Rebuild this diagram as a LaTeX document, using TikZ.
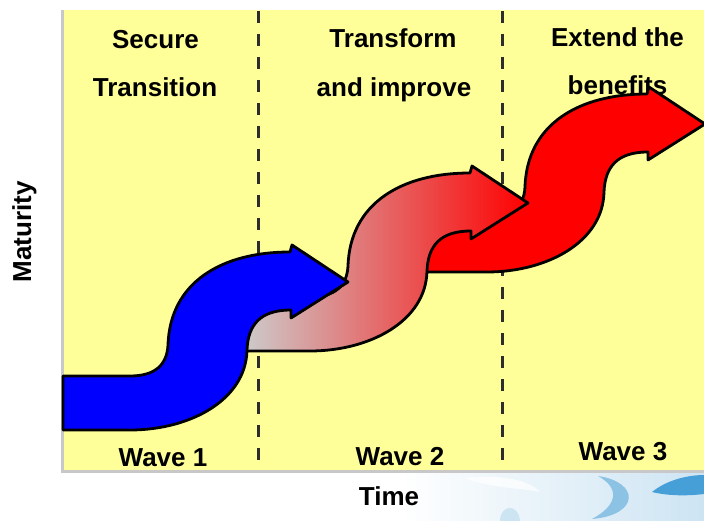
\documentclass[tikz,border=0pt]{standalone}
\usepackage{fontspec}
\setmainfont{Liberation Sans}
\definecolor{bgyellow}{RGB}{255,255,153}
\definecolor{dashgray}{RGB}{45,45,45}
\definecolor{bordergray}{RGB}{200,200,200}
\definecolor{startgray}{RGB}{204,204,204}
\definecolor{wmpale}{RGB}{205,228,243}
\definecolor{wmmid}{RGB}{140,195,228}
\definecolor{wmdark}{RGB}{70,160,215}
\newcommand{\wavepath}{(63,376) -- (130,376) .. controls (155,376) and (167,365) .. (168,345) .. controls (170,282) and (222,252) .. (290,252) -- (292,245) -- (348,282) -- (291,318) -- (291,310) .. controls (260,310) and (248,325) .. (247,350) .. controls (246,400) and (190,430) .. (130,430) -- (63,430) -- cycle}
\begin{document}
\begin{tikzpicture}[x=1pt,y=-1pt,
  lbl/.style={font=\bfseries\fontsize{26}{30}\selectfont, inner sep=0pt, anchor=base},
  divider/.style={draw=dashgray, line width=3pt, dash pattern=on 12pt off 11pt},
  wavearrow/.style={draw=black, line width=2.8pt, line join=round}]
\useasboundingbox (0,0) rectangle (704,521);
\clip (0,0) rectangle (704,521);
% watermark below the chart
\shade[left color=white, right color=wmpale] (400,473) rectangle (704,521);
\fill[white, opacity=0.7] (465,478) .. controls (500,474) and (530,480) .. (540,492) .. controls (520,488) and (490,488) .. (465,478) -- cycle;
\fill[wmpale] (500,521) .. controls (500,505) and (518,502) .. (520,521) -- cycle;
\fill[wmmid] (598,476) .. controls (640,482) and (640,515) .. (592,519) .. controls (618,505) and (620,488) .. (598,476) -- cycle;
\fill[wmdark] (652,492) .. controls (668,479) and (690,475) .. (704,475) -- (704,494) .. controls (688,496) and (668,496) .. (652,492) -- cycle;
% chart area
\fill[bgyellow] (62,10) rectangle (704,471);
\draw[bordergray, line width=3pt] (62,10) -- (62,471) -- (704,471);
\coordinate (d1t) at (258,11);
\coordinate (d1b) at (258,470);
\coordinate (d2t) at (502,11);
\coordinate (d2b) at (502,470);
\draw[divider] (d1t) -- (d1b);
\draw[divider] (d2t) -- (d2b);
% phase titles
\node[lbl] (p1a) at (155.5,49) {Secure};
\node[lbl] (p1b) at (155,97) {Transition};
\node[lbl] (p2a) at (393,48) {Transform};
\node[lbl] (p2b) at (394,97) {and improve};
\node[lbl] (p3a) at (617.5,46.5) {Extend the};
\node[lbl] (p3b) at (617.5,94.5) {benefits};
% wave labels
\node[lbl] (w1) at (163,466) {Wave 1};
\node[lbl] (w2) at (400,465) {Wave 2};
\node[lbl] (w3) at (623,460) {Wave 3};
% axis labels
\node[lbl] (tx) at (389,505) {Time};
\node[lbl, rotate=90] (ty) at (31,232) {Maturity};
% arrows
\begin{scope}[shift={(357,-158)}]
  \filldraw[wavearrow, fill=red] \wavepath;
\end{scope}
\begin{scope}[shift={(180,-79)}]
  \shadedraw[wavearrow, left color=startgray, right color=red] \wavepath;
\end{scope}
\filldraw[wavearrow, fill=blue] \wavepath;
\end{tikzpicture}
\end{document}
